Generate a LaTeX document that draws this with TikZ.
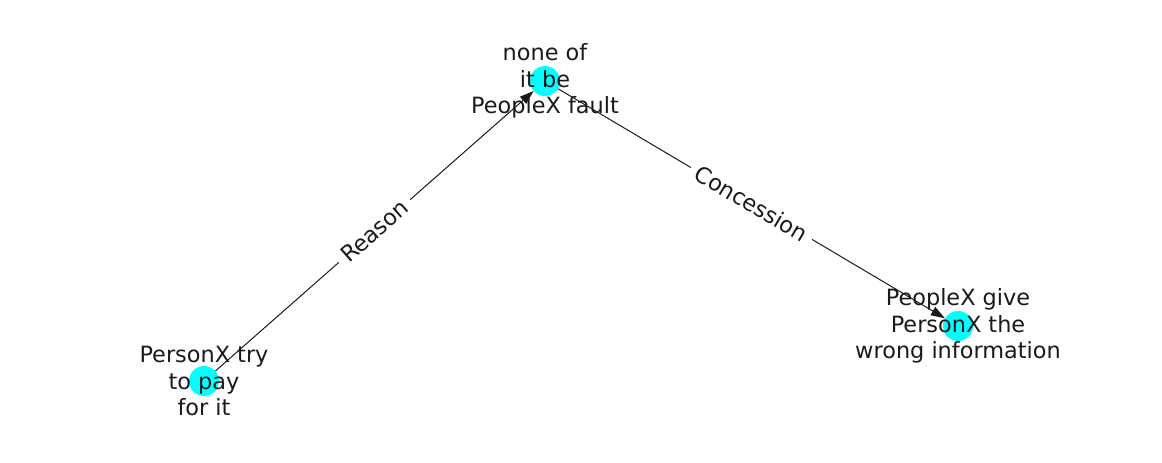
\documentclass[tikz,border=0pt]{standalone}
\usepackage{fontspec}
\setmainfont{DejaVu Sans}
\usetikzlibrary{arrows.meta}
\definecolor{eventcyan}{RGB}{0,255,255}
\definecolor{labelgray}{RGB}{26,26,26}

\begin{document}
\begin{tikzpicture}[
							x = 0.75pt,
							y = -0.75pt,
							event/.style = {
								circle,
								fill = eventcyan,
								inner sep = 0pt,
								minimum size = 22.5pt,
							},
							caption/.style = {
								align = center,
								text = labelgray,
								font = \fontsize{16.8}{19.9}\selectfont,
							},
							link/.style = {
								-{Triangle[length = 10.5pt, width = 7pt]},
								line width = 0.75pt,
								draw = labelgray,
							},
							relation/.style = {
								sloped,
								fill = white,
								inner xsep = 5pt,
								inner ysep = 2pt,
								text = labelgray,
								font = \fontsize{16.8}{19.9}\selectfont,
							}
						]
					\useasboundingbox (0, 0) rectangle (1162, 462);

					\node [event] (fault) at (545, 81) {};
					\node [event] (pay) at (204, 381) {};
					\node [event] (info) at (958, 326) {};

					\draw [link] (pay) to node [relation] {Reason} (fault);
					\draw [link] (fault) to node [relation] {Concession} (info);

					\node [caption] (faultText) at (fault) {none of\\it be\\PeopleX fault};
					\node [caption] (payText) at (pay) {PersonX try\\to pay\\for it};
					\node [caption] (infoText) at (info) {PeopleX give\\PersonX the\\wrong information};
				\end{tikzpicture}
\end{document}
